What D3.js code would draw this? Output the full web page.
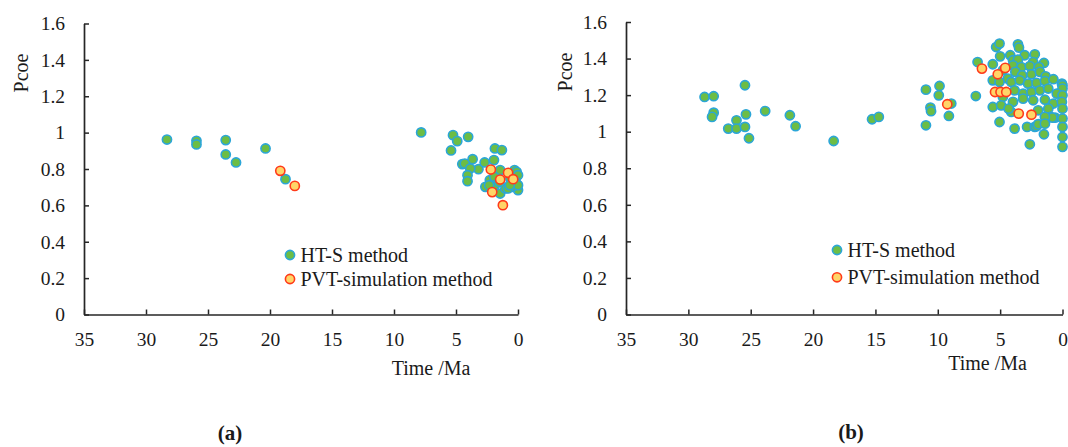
<!DOCTYPE html>
<html>
<head>
<meta charset="utf-8">
<script src="https://cdn.jsdelivr.net/npm/d3@7"></script>
<style>
  body { margin: 0; background: #fff; }
  svg text { font-family: "Liberation Serif", "Times New Roman", serif; fill: #1a1a1a; }
</style>
</head>
<body>
<svg id="fig" width="1068" height="447"></svg>
<script>
// Axis ticks
const timeTicks = [35, 30, 25, 20, 15, 10, 5, 0];
const pcoeTicks = [0, 0.2, 0.4, 0.6, 0.8, 1, 1.2, 1.4, 1.6];
const seriesNames = ["HT-S method", "PVT-simulation method"];
const panelLabels = ["(a)", "(b)"];
const xTitle = "Time /Ma";
const yTitle = "Pcoe";

// Panel (a): [time in Ma, Pcoe]
const htsA = [
  [28.31, 0.962], [25.93, 0.955], [25.93, 0.935], [23.57, 0.959], [23.57, 0.880],
  [22.74, 0.836], [20.36, 0.913], [18.75, 0.744],
  [7.81, 1.001], [5.24, 0.986], [4.90, 0.953], [4.02, 0.977], [5.40, 0.902],
  [1.86, 0.913], [1.30, 0.904], [3.66, 0.854], [4.49, 0.827], [4.29, 0.830],
  [3.19, 0.799], [3.85, 0.803], [4.07, 0.766], [4.07, 0.733], [2.69, 0.836],
  [1.94, 0.849], [2.63, 0.702], [1.44, 0.794], [0.28, 0.794], [0.11, 0.784],
  [0.00, 0.766], [0.00, 0.684], [1.44, 0.665], [1.02, 0.693], [0.47, 0.702],
  [2.27, 0.739], [1.86, 0.711], [2.33, 0.711], [0.19, 0.729], [0.00, 0.711],
  [0.61, 0.748], [0.80, 0.693], [1.91, 0.757], [1.50, 0.729], [0.66, 0.711]
];
const pvtA = [
  [19.17, 0.790], [18.00, 0.707], [2.19, 0.797], [0.80, 0.779],
  [1.44, 0.742], [0.39, 0.744], [2.08, 0.673], [1.22, 0.601]
];

// Panel (b): [time in Ma, Pcoe]
const htsB = [
  [28.70, 1.190], [27.97, 1.194], [27.97, 1.104], [28.10, 1.081], [25.46, 1.254],
  [25.38, 1.095], [26.14, 1.062], [26.80, 1.017], [26.14, 1.017], [25.46, 1.026],
  [25.14, 0.964], [23.84, 1.113], [21.86, 1.090], [21.40, 1.030], [18.35, 0.949],
  [15.27, 1.068], [14.73, 1.081], [10.95, 1.230], [9.86, 1.250], [9.92, 1.199],
  [10.59, 1.132], [10.54, 1.112], [10.95, 1.035], [8.92, 1.154], [9.11, 1.086],
  [6.95, 1.195],
  [5.32, 1.463], [5.05, 1.482], [3.57, 1.478], [3.49, 1.460],
  [5.00, 1.412], [4.19, 1.418], [3.03, 1.418], [2.22, 1.423],
  [6.81, 1.381], [5.59, 1.369], [3.97, 1.391], [3.57, 1.394], [1.49, 1.376], [2.35, 1.381],
  [4.78, 1.336], [3.97, 1.363], [3.30, 1.353], [2.62, 1.359], [1.89, 1.353], [3.78, 1.327],
  [3.24, 1.308], [2.49, 1.314], [1.81, 1.327], [1.35, 1.303], [4.38, 1.290], [5.59, 1.281],
  [5.05, 1.272], [4.11, 1.272], [3.43, 1.281], [2.76, 1.263], [2.08, 1.267], [1.41, 1.277],
  [0.73, 1.287], [0.05, 1.263], [0.00, 1.254], [0.00, 1.236],
  [3.84, 1.226], [3.16, 1.208], [2.49, 1.217], [1.81, 1.226], [1.14, 1.236], [0.46, 1.208],
  [0.00, 1.199], [4.78, 1.190], [3.97, 1.163], [3.16, 1.181], [2.35, 1.172], [1.41, 1.175],
  [0.73, 1.154], [0.05, 1.163], [5.59, 1.135], [4.92, 1.144], [4.11, 1.108], [4.32, 1.126],
  [1.95, 1.117], [1.14, 1.126], [0.00, 1.126], [0.95, 1.081], [0.59, 1.077], [0.81, 1.077],
  [1.41, 1.081], [0.00, 1.072], [5.05, 1.053], [3.84, 1.017], [2.84, 1.026], [2.22, 1.026],
  [2.08, 1.030], [1.95, 1.041], [1.41, 1.044], [0.00, 1.026], [1.49, 0.986], [0.00, 0.971],
  [2.62, 0.931], [0.00, 0.917]
];
const pvtB = [
  [9.24, 1.150], [6.46, 1.345], [5.19, 1.314], [4.59, 1.349], [5.41, 1.217],
  [4.97, 1.217], [4.51, 1.217], [3.51, 1.099], [2.49, 1.093]
];

// Page layout for the two panels
const layout = [
  { left: 84, right: 518, bottom: 314.5, top: 23.5,
    yTitleX: 27.5, yTitleY: 73, xTitleX: 431, xTitleY: 375,
    legX: 290, legY: [255, 279], tagX: 230, tagY: 440 },
  { left: 626, right: 1062.5, bottom: 314.5, top: 22,
    yTitleX: 571.5, yTitleY: 72, xTitleX: 987.5, xTitleY: 370,
    legX: 837, legY: [250, 277.3], tagX: 851, tagY: 439 }
];

const styles = [
  { fill: "#6cbd45", stroke: "#2ba6d8" },   // HT-S
  { fill: "#ffd568", stroke: "#ff3a1a" }    // PVT simulation
];
const R = 4.6, SW = 1.6;
const axisColor = "#262626";

const svg = d3.select("#fig");
const panelData = [[htsA, pvtA], [htsB, pvtB]];

panelData.forEach((series, i) => {
  const L = layout[i];
  const x = d3.scaleLinear().domain([35, 0]).range([L.left, L.right]);
  const y = d3.scaleLinear().domain([0, 1.6]).range([L.bottom, L.top]);
  const g = svg.append("g");

  const xAxis = g.append("g")
    .attr("transform", `translate(0,${L.bottom})`)
    .call(d3.axisBottom(x).tickValues(timeTicks).tickFormat(d => String(d))
      .tickSizeInner(-5).tickSizeOuter(0).tickPadding(18));
  const yAxis = g.append("g")
    .attr("transform", `translate(${L.left},0)`)
    .call(d3.axisLeft(y).tickValues(pcoeTicks).tickFormat(d => String(d))
      .tickSizeInner(-5).tickSizeOuter(0).tickPadding(19));

  [xAxis, yAxis].forEach(a => {
    a.select(".domain").attr("stroke", axisColor).attr("stroke-width", 1.7);
    a.selectAll(".tick line").attr("stroke", axisColor).attr("stroke-width", 1.5);
    a.selectAll(".tick text").attr("fill", "#1a1a1a")
      .style("font-size", "19.5px").style("font-family", "'Liberation Serif', serif");
  });

  // Axis titles
  g.append("text")
    .attr("transform", `translate(${L.yTitleX},${L.yTitleY}) rotate(-90)`)
    .attr("text-anchor", "middle")
    .style("font-size", "20px")
    .text(yTitle);
  g.append("text")
    .attr("x", L.xTitleX).attr("y", L.xTitleY)
    .attr("text-anchor", "middle")
    .style("font-size", "20px")
    .text(xTitle);

  // Scatter points: HT-S first, PVT simulation on top
  series.forEach((pts, k) => {
    g.append("g").selectAll("circle")
      .data(pts)
      .join("circle")
      .attr("cx", d => x(d[0]))
      .attr("cy", d => y(d[1]))
      .attr("r", R)
      .attr("fill", styles[k].fill)
      .attr("stroke", styles[k].stroke)
      .attr("stroke-width", SW);
  });

  // Legend
  seriesNames.forEach((name, k) => {
    g.append("circle")
      .attr("cx", L.legX).attr("cy", L.legY[k]).attr("r", R)
      .attr("fill", styles[k].fill).attr("stroke", styles[k].stroke)
      .attr("stroke-width", SW);
    g.append("text")
      .attr("x", L.legX + 10.5).attr("y", L.legY[k] + 6.8)
      .style("font-size", "20px")
      .text(name);
  });

  // Panel tag
  g.append("text")
    .attr("x", L.tagX).attr("y", L.tagY)
    .attr("text-anchor", "middle")
    .style("font-size", "21px").style("font-weight", "bold")
    .text(panelLabels[i]);
});
</script>
</body>
</html>
